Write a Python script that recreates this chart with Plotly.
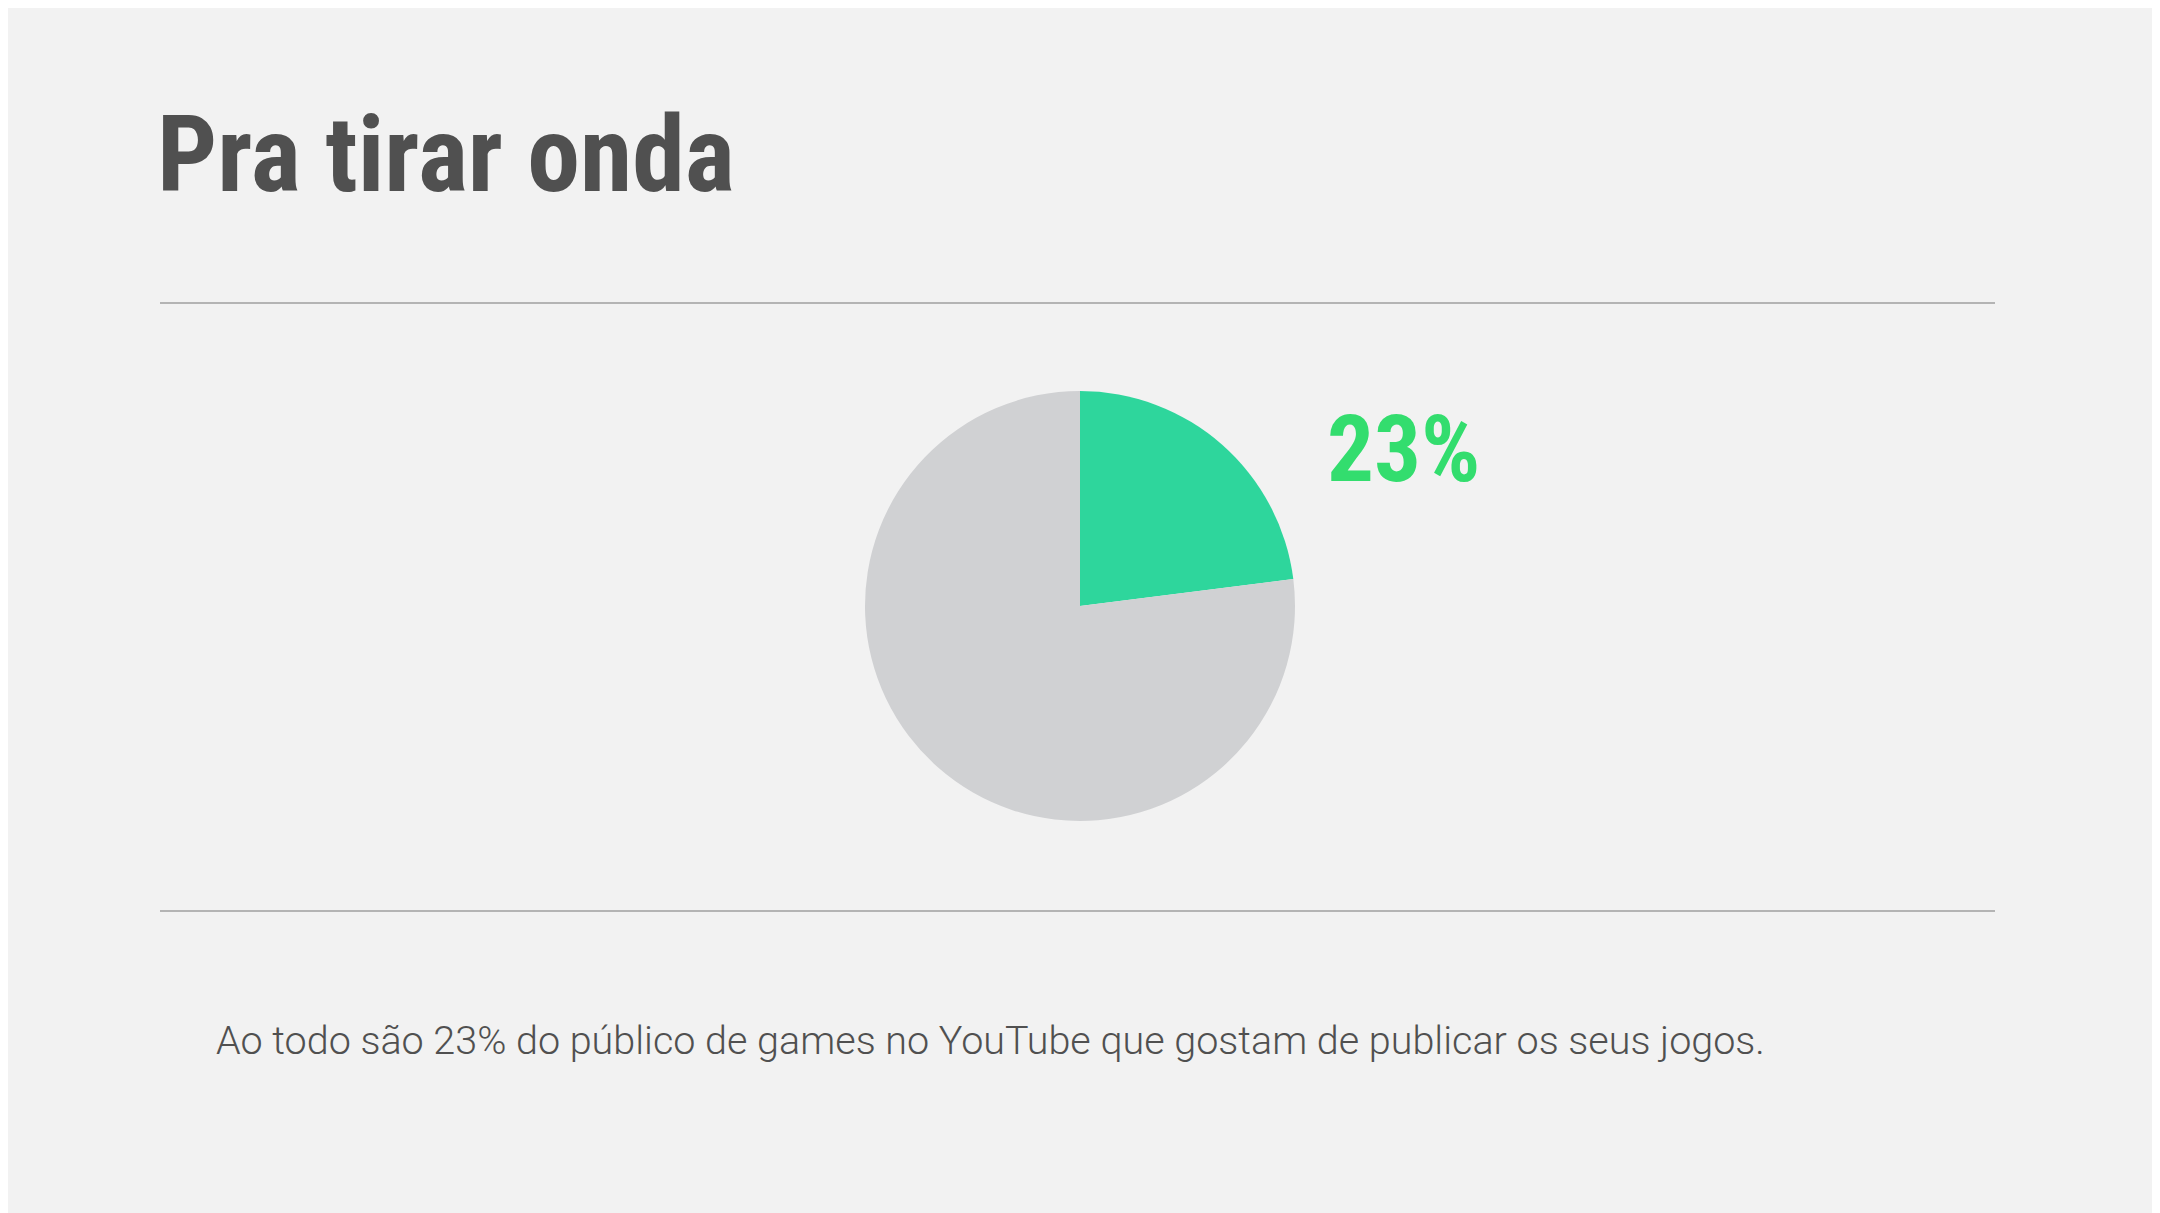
import plotly.graph_objects as go

labels = ["Publicam", "Outros"]
values = [23, 77]
colors = ["#2ED69C", "#D0D1D3"]

W, H = 2160, 1213
dx, dy = -8, -8  # compensate page offset
cx, cy, r = 1080 + dx, 606 + dy, 215
fig = go.Figure(go.Pie(labels=labels, values=values, sort=False, direction="clockwise",
                       marker=dict(colors=colors, line=dict(width=0)), textinfo="none",
                       hoverinfo="label+percent",
                       domain=dict(x=[(cx-r)/W, (cx+r)/W], y=[1-(cy+r)/H, 1-(cy-r)/H])))
bg = "#F2F2F2"
fig.update_layout(width=W, height=H, paper_bgcolor=bg, plot_bgcolor=bg, showlegend=False,
                  margin=dict(l=0, r=0, t=0, b=0))
for y in [303, 911]:
    fig.add_shape(type="line", xref="paper", yref="paper", x0=(160+dx)/W, x1=(1995+dx)/W,
                  y0=1-(y+dy)/H, y1=1-(y+dy)/H, line=dict(color="#B4B4B4", width=2))
fig.add_annotation(text="<b>Pra tirar onda</b>", xref="paper", yref="paper", x=(155+dx)/W, y=1-(155+dy)/H,
                   xanchor="left", yanchor="middle", showarrow=False,
                   font=dict(family="Roboto Condensed, Roboto", size=106, color="#505050"))
fig.add_annotation(text=f"<b>{values[0]}%</b>", xref="paper", yref="paper", x=(1325+dx)/W, y=1-(450+dy)/H,
                   xanchor="left", yanchor="middle", showarrow=False,
                   font=dict(family="Roboto Condensed, Roboto", size=93, color="#33DD6E"))
fig.add_annotation(text=f"Ao todo são {values[0]}% do público de games no YouTube que gostam de publicar os seus jogos.",
                   xref="paper", yref="paper", x=(214+dx)/W, y=1-(1040+dy)/H,
                   xanchor="left", yanchor="middle", showarrow=False,
                   font=dict(family="Roboto Light, Roboto", size=39.5, color="#505050"))
fig.write_html("out.html")
